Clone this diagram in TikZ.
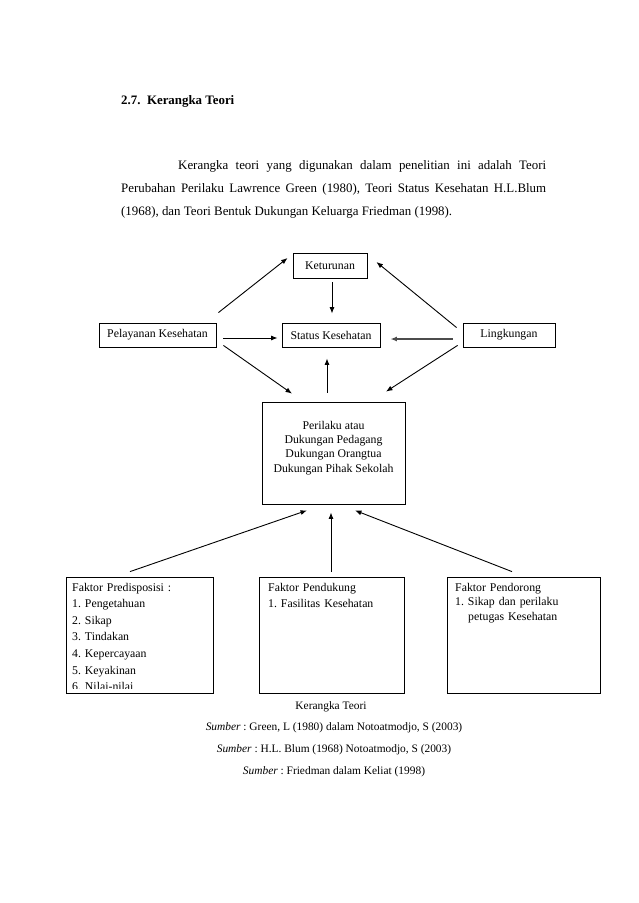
\documentclass[tikz,border=0pt]{standalone}
\usepackage{fontspec}
\setmainfont{Liberation Serif}
\usetikzlibrary{arrows.meta}
\frenchspacing
\begin{document}
\begin{tikzpicture}[x=1pt,y=-1pt,
  box/.style={draw,line width=0.8pt,inner sep=0pt,font=\fontsize{11.8}{14}\selectfont},
  txt/.style={inner sep=0pt,font=\fontsize{11.8}{14}\selectfont},
  captxt/.style={inner sep=0pt,font=\fontsize{11.4}{14}\selectfont},
  arr/.style={line width=0.9pt,-{Latex[length=6.5pt,width=5pt]}},
  body/.style={inner sep=0pt,anchor=base west,font=\fontsize{12.9}{16}\selectfont}]
\useasboundingbox[fill=white] (0,0) rectangle (638,903);
% heading and paragraph
\node[body,font=\fontsize{12.9}{16}\selectfont\bfseries] (title) at (121,104) {2.7.\ \ Kerangka Teori};
\node[body] (p1) at (178,169.5) {\makebox[368pt][s]{Kerangka teori yang digunakan dalam penelitian ini adalah Teori}};
\node[body] (p2) at (121,192.5) {\makebox[425pt][s]{Perubahan Perilaku Lawrence Green (1980), Teori Status Kesehatan H.L.Blum}};
\node[body] (p3) at (121,215) {(1968), dan Teori Bentuk Dukungan Keluarga Friedman (1998).};
% boxes
\node[box,minimum width=74pt,minimum height=25pt] (ket) at (330,265.5) {Keturunan};
\node[box,minimum width=117pt,minimum height=24pt] (pel) at (157.5,335) {Pelayanan Kesehatan};
\node[box,minimum width=98pt,minimum height=24pt] (stat) at (331,335) {Status Kesehatan};
\node[box,minimum width=92pt,minimum height=24pt] (ling) at (509,335) {Lingkungan};
\node[box,minimum width=143pt,minimum height=102pt] (peri) at (333.5,453) {};
\node[txt,align=center,font=\fontsize{11.8}{14.2}\selectfont] (peritxt) at (333.5,448) {Perilaku atau\\Dukungan Pedagang\\Dukungan Orangtua\\Dukungan Pihak Sekolah};
\node[box,minimum width=147pt,minimum height=116pt] (fp1) at (139.5,635) {};
\node[box,minimum width=145pt,minimum height=116pt] (fp2) at (331.5,635) {};
\node[box,minimum width=153pt,minimum height=116pt] (fp3) at (523.5,635) {};
\begin{scope}
\clip ([shift={(1,1)}]fp1.north west) rectangle ([shift={(-1,-5)}]fp1.south east);
\node[txt,anchor=base west,text width=140pt,align=left,font=\fontsize{11.8}{16.6}\selectfont] (fp1txt) at (72,591) {Faktor Predisposisi :\\1. Pengetahuan\\2. Sikap\\3. Tindakan\\4. Kepercayaan\\5. Keyakinan\\6. Nilai-nilai};
\end{scope}
\node[txt,anchor=base west,text width=140pt,align=left,font=\fontsize{11.8}{16}\selectfont] (fp2txt) at (268,591) {Faktor Pendukung\\1. Fasilitas Kesehatan};
\node[txt,anchor=base west,text width=145pt,align=left,font=\fontsize{11.8}{14.5}\selectfont] (fp3txt) at (455,591) {Faktor Pendorong\\1. Sikap dan perilaku\\\hspace*{13pt}petugas Kesehatan};
% arrows
\draw[arr] ([shift={(2,-10)}]pel.north east) -- ([shift={(-5,-7.5)}]ket.west);
\draw[arr] ([shift={(-6,5)}]ling.north west) -- ([shift={(9,-3.5)}]ket.east);
\draw[arr] ([shift={(2,4)}]ket.south) -- ([shift={(1,-9)}]stat.north);
\draw[arr] ([shift={(7,3)}]pel.east) -- ([shift={(-4,3)}]stat.west);
\draw[arr,line width=1.4pt,draw=black!70] ([shift={(-10,4)}]ling.west) -- ([shift={(10,4)}]stat.east);
\draw[arr] ([shift={(7,-2)}]pel.south east) -- ([shift={(-41.5,-8)}]peri.north);
\draw[arr] ([shift={(-5,-2)}]ling.south west) -- ([shift={(52.5,-10)}]peri.north);
\draw[arr] ([shift={(-6.5,-9)}]peri.north) -- ([shift={(-4,11)}]stat.south);
\draw[arr] ([shift={(-9.5,-5)}]fp1.north) -- ([shift={(-26.5,6)}]peri.south);
\draw[arr] ([shift={(-0.5,-5)}]fp2.north) -- ([shift={(-2.5,8)}]peri.south);
\draw[arr] ([shift={(-11.5,-5)}]fp3.north) -- ([shift={(21.5,6)}]peri.south);
% captions
\node[captxt] (cap0) at (331,707) {Kerangka Teori};
\node[captxt] (cap1) at (334,728) {\textit{Sumber} : Green, L (1980) dalam Notoatmodjo, S (2003)};
\node[captxt] (cap2) at (334,750) {\textit{Sumber} : H.L. Blum (1968) Notoatmodjo, S (2003)};
\node[captxt] (cap3) at (334,772) {\textit{Sumber} : Friedman dalam Keliat (1998)};
\end{tikzpicture}
\end{document}
